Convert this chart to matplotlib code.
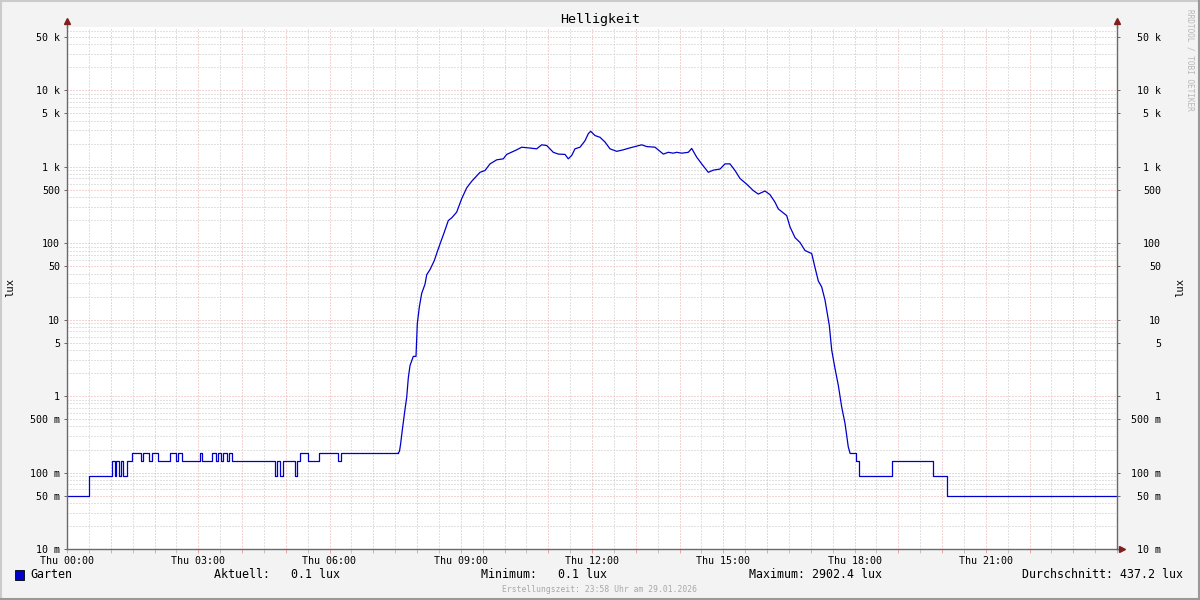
import numpy as np
import matplotlib.pyplot as plt
import matplotlib.transforms as mtransforms
from matplotlib.ticker import FixedLocator, FuncFormatter, NullFormatter
from matplotlib.lines import Line2D
from matplotlib.patches import Rectangle

plt.rcParams['font.family'] = ['DejaVu Sans Mono', 'DejaVu Sans']

################### Daten (Stunden seit Mitternacht, lux)

# Nacht bis Sonnenaufgang: Stufenwerte (gilt ab Zeitpunkt)
morgen_h = [0.000, 0.514, 1.029, 1.097, 1.131, 1.189, 1.223, 1.269, 1.371, 1.479,
            1.691, 1.744, 1.881, 1.936, 2.087, 2.354, 2.491, 2.530, 2.635, 3.040,
            3.079, 3.307, 3.399, 3.445, 3.527, 3.573, 3.664, 3.696, 3.765, 4.754,
            4.807, 4.869, 4.944, 5.211, 5.250, 5.326, 5.515, 5.760, 6.201, 6.256,
            7.573]
morgen_lux = [0.05, 0.09, 0.14, 0.09, 0.14, 0.09, 0.14, 0.09, 0.14, 0.18,
              0.14, 0.18, 0.14, 0.18, 0.14, 0.18, 0.14, 0.18, 0.14, 0.18,
              0.14, 0.18, 0.14, 0.18, 0.14, 0.18, 0.14, 0.18, 0.14, 0.09,
              0.14, 0.09, 0.14, 0.09, 0.14, 0.18, 0.14, 0.18, 0.14, 0.18,
              0.18]

# Tagesverlauf
tag_h = [7.573, 7.600, 7.627, 7.664, 7.726, 7.765, 7.801, 7.840, 7.915, 7.977,
         8.007, 8.053, 8.107, 8.183, 8.222, 8.297, 8.395, 8.473, 8.549, 8.624,
         8.715, 8.800, 8.907, 9.021, 9.136, 9.250, 9.440, 9.554, 9.669, 9.822,
         9.973, 10.050, 10.279, 10.393, 10.544, 10.736, 10.850, 10.965, 11.115, 11.230,
         11.383, 11.458, 11.536, 11.611, 11.726, 11.840, 11.915, 11.970, 12.069, 12.183,
         12.297, 12.411, 12.565, 12.715, 12.869, 12.983, 13.136, 13.250, 13.440, 13.630,
         13.744, 13.858, 13.936, 14.050, 14.201, 14.279, 14.393, 14.507, 14.658, 14.773,
         14.926, 15.040, 15.154, 15.269, 15.383, 15.536, 15.687, 15.801, 15.954, 16.069,
         16.183, 16.258, 16.450, 16.526, 16.640, 16.754, 16.869, 17.022, 17.097, 17.173,
         17.250, 17.326, 17.424, 17.479, 17.554, 17.630, 17.707, 17.783, 17.858, 17.897]
tag_lux = [0.18, 0.19, 0.24, 0.36, 0.67, 0.97, 1.72, 2.5, 3.3, 3.3,
           8.8, 14.6, 22, 29, 38.6, 45, 59, 80, 106, 139,
           197, 216, 254, 380, 528, 643, 843, 890, 1087, 1228,
           1265, 1445, 1660, 1795, 1760, 1710, 1930, 1890, 1540, 1460,
           1445, 1265, 1400, 1710, 1795, 2180, 2695, 2902.4, 2550, 2420,
           2100, 1710, 1585, 1660, 1760, 1830, 1930, 1830, 1795, 1460,
           1540, 1500, 1540, 1500, 1540, 1730, 1330, 1087, 843, 900,
           930, 1087, 1087, 890, 700, 590, 486, 438, 480, 430,
           343, 280, 229, 163, 118, 102, 80, 73, 48, 32,
           26.7, 18, 8.4, 4, 2.3, 1.38, 0.72, 0.44, 0.216, 0.18]

# Abend: Stufenwerte
abend_h = [17.897, 18.034, 18.110, 18.864, 19.801, 20.121, 24.0]
abend_lux = [0.18, 0.14, 0.09, 0.14, 0.09, 0.05, 0.05]

y_haupt = [0.01, 0.05, 0.1, 0.5, 1, 5, 10, 50, 100, 500, 1000, 5000, 10000, 50000]
y_text = ['10 m', '50 m', '100 m', '500 m', '1', '5', '10', '50', '100', '500',
          '1 k', '5 k', '10 k', '50 k']

legende = ['Aktuell:   0.1 lux', 'Minimum:   0.1 lux', 'Maximum: 2902.4 lux',
           'Durchschnitt: 437.2 lux']

################### Farben

HINTERGRUND = '#F3F3F3'
LINIE = '#0000CC'
GRID_ROT = '#E9A9A9'
GRID_GRAU = '#C4C4C4'
ACHSE = '#6A6A6A'
PFEIL = '#7F1F1F'

px = 0.72  # 1 Pixel in Punkten bei 100 dpi

fig = plt.figure(figsize=(12, 6), dpi=100, facecolor=HINTERGRUND)
ax = fig.add_axes([67 / 1200, 51 / 600, 1050 / 1200, 522 / 600])
ax.set_facecolor('white')

ax.step(morgen_h, morgen_lux, where='post', color=LINIE, lw=0.9)
ax.plot(tag_h, tag_lux, color=LINIE, lw=0.9)
ax.step(abend_h, abend_lux, where='post', color=LINIE, lw=0.9)

ax.set_yscale('log')
ax.set_xlim(0, 24)
ax.set_ylim(0.01, 67000)

# y-Achse
y_minor = [k * 10.0 ** n for n in range(-2, 5) for k in (2, 3, 4, 6, 7, 8, 9)]
ax.yaxis.set_major_locator(FixedLocator(y_haupt))
ax.yaxis.set_minor_locator(FixedLocator(y_minor))
ax.set_yticklabels(y_text)
ax.yaxis.set_minor_formatter(NullFormatter())

# x-Achse
ax.xaxis.set_major_locator(FixedLocator(np.arange(0, 25, 1)))
ax.xaxis.set_minor_locator(FixedLocator(np.arange(0.5, 24, 1)))
ax.xaxis.set_major_formatter(FuncFormatter(
    lambda v, p: 'Thu %02d:00' % int(round(v)) if int(round(v)) % 3 == 0 and v < 23.5 else ''))

ax.grid(True, which='major', color=GRID_ROT, lw=px, ls=(0, (1, 2)))
ax.grid(True, which='minor', color=GRID_GRAU, lw=px, ls=(0, (1, 2)))
ax.set_axisbelow(True)

ax.tick_params(axis='x', which='major', length=3, width=px, color=GRID_ROT,
               labelsize=7.2, pad=2)
ax.tick_params(axis='x', which='minor', length=3, width=px, color=GRID_GRAU)
ax.tick_params(axis='y', which='major', left=True, right=True, labelleft=True,
               labelright=True, length=3 * px, width=px, color=ACHSE,
               labelsize=7.2, pad=4 * px)
ax.tick_params(axis='y', which='minor', left=False, right=False)

# rechte Beschriftung rechtsbuendig wie bei rrdtool
rechts = ax.get_yaxis_transform() + mtransforms.ScaledTranslation(44 / 100, 0, fig.dpi_scale_trans)
for t in ax.yaxis.get_major_ticks():
    t.label2.set_horizontalalignment('right')
    t.label2.set_transform(rechts)

for s in ('left', 'right', 'bottom'):
    ax.spines[s].set_color(ACHSE)
    ax.spines[s].set_linewidth(1.0)
ax.spines['top'].set_visible(False)

# Achsenpfeile
ax.add_line(Line2D([0, 0], [1, 1 + 5 / 522], transform=ax.transAxes, color=ACHSE, lw=1.0, clip_on=False))
ax.add_line(Line2D([1, 1], [1, 1 + 5 / 522], transform=ax.transAxes, color=ACHSE, lw=1.0, clip_on=False))
ax.add_line(Line2D([1, 1 + 4 / 1050], [0, 0], transform=ax.transAxes, color=ACHSE, lw=1.0, clip_on=False))
ax.plot([0, 1], [1 + 6 / 522, 1 + 6 / 522], ls='none', marker='^', ms=4.5, color=PFEIL,
        transform=ax.transAxes, clip_on=False)
ax.plot([1 + 5 / 1050], [0], ls='none', marker='>', ms=4.5, color=PFEIL,
        transform=ax.transAxes, clip_on=False)

# Texte
fig.text(0.5, 1 - 19 / 600, 'Helligkeit', ha='center', va='center', fontsize=9.6)
fig.text(10 / 1200, 1 - 287 / 600, 'lux', rotation=90, ha='center', va='center', fontsize=7.6)
fig.text(1180 / 1200, 1 - 287 / 600, 'lux', rotation=90, ha='center', va='center', fontsize=7.6)
fig.text(1190 / 1200, 1 - 60 / 600, 'RRDTOOL / TOBI OETIKER', rotation=-90, ha='center',
         va='center', fontsize=5.6, color='#B8B8B8')

# Legende
ly = 1 - 575 / 600
fig.add_artist(Rectangle((15 / 1200, 1 - 580 / 600), 9 / 1200, 10 / 600, facecolor=LINIE,
                         edgecolor='black', lw=0.6, transform=fig.transFigure))
fig.text(30 / 1200, ly, 'Garten', ha='left', va='center', fontsize=8.4)
fig.text(214 / 1200, ly, legende[0], ha='left', va='center', fontsize=8.4)
fig.text(481 / 1200, ly, legende[1], ha='left', va='center', fontsize=8.4)
fig.text(749 / 1200, ly, legende[2], ha='left', va='center', fontsize=8.4)
fig.text(1183 / 1200, ly, legende[3], ha='right', va='center', fontsize=8.4)
fig.text(0.5, 1 - 589 / 600, 'Erstellungszeit: 23:58 Uhr am 29.01.2026', ha='center',
         va='center', fontsize=5.8, color='#A8A8A8')

# Rahmen
fig.add_artist(Line2D([0, 1], [1 - 1 / 600, 1 - 1 / 600], color='#CBCBCB', lw=1.5, transform=fig.transFigure))
fig.add_artist(Line2D([1 / 1200, 1 / 1200], [0, 1], color='#CBCBCB', lw=1.5, transform=fig.transFigure))
fig.add_artist(Line2D([0, 1], [1 / 600, 1 / 600], color='#999999', lw=1.5, transform=fig.transFigure))
fig.add_artist(Line2D([1 - 1 / 1200, 1 - 1 / 1200], [0, 1], color='#999999', lw=1.5, transform=fig.transFigure))

fig.savefig('out.png', dpi=100, facecolor=HINTERGRUND)
